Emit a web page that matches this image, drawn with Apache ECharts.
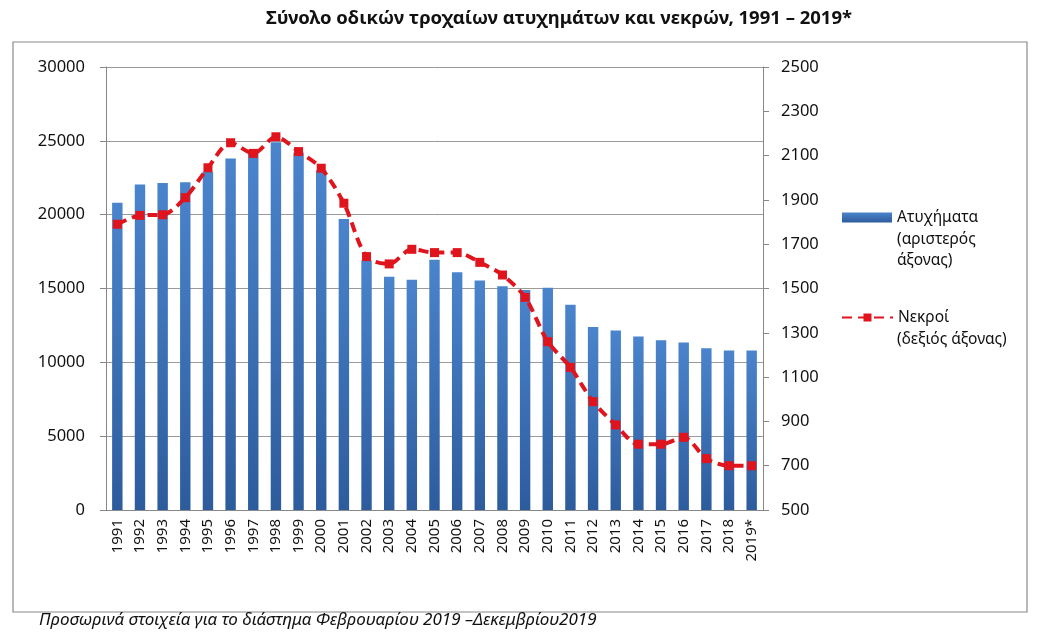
<!DOCTYPE html>
<html>
<head>
<meta charset="utf-8">
<script src="https://cdn.jsdelivr.net/npm/echarts@6/dist/echarts.min.js"></script>
<style>
  html, body { margin: 0; padding: 0; background: #fff; }
  #main { width: 1047px; height: 641px; }
</style>
</head>
<body>
<div id="main"></div>
<script>
// έτη (άξονας x)
const years = ['1991','1992','1993','1994','1995','1996','1997','1998','1999','2000',
  '2001','2002','2003','2004','2005','2006','2007','2008','2009','2010',
  '2011','2012','2013','2014','2015','2016','2017','2018','2019*'];
// ατυχήματα - αριστερός άξονας
const accidents = [20800, 22050, 22150, 22200, 22900, 23800, 24150, 24900, 24200, 23000,
  19700, 16900, 15800, 15600, 16950, 16100, 15550, 15150, 14900, 15050,
  13900, 12400, 12150, 11750, 11500, 11350, 10950, 10800, 10800];
// νεκροί - δεξιός άξονας
const deaths = [1790, 1830, 1833, 1910, 2045, 2158, 2110, 2185, 2118, 2043,
  1885, 1644, 1611, 1677, 1662, 1662, 1618, 1561, 1460, 1260,
  1144, 989, 884, 797, 797, 828, 732, 700, 700];

const accName = 'Ατυχήματα';
const deathName = 'Νεκροί';

const font = 'Noto Sans';
const chart = echarts.init(document.getElementById('main'));

const option = {
  animation: false,
  textStyle: { fontFamily: font },
  title: {
    text: 'Σύνολο οδικών τροχαίων ατυχημάτων και νεκρών, 1991 – 2019*',
    left: 554, top: 4, textAlign: 'center',
    textStyle: { fontSize: 18.5, fontWeight: 'bold', color: '#111', fontFamily: font }
  },
  graphic: [
    { type: 'rect', shape: { x: 13, y: 42, width: 1014, height: 570 },
      style: { fill: 'none', stroke: '#8a8a8a', lineWidth: 1.2 } },
    { type: 'text', x: 39, y: 612,
      style: { text: 'Προσωρινά στοιχεία για το διάστημα Φεβρουαρίου 2019 –Δεκεμβρίου2019',
        font: 'italic 17px "' + font + '"', fill: '#111' } },
    // υπόλοιπες γραμμές του υπομνήματος
    { type: 'text', x: 897, y: 229,
      style: { text: '(αριστερός\nάξονας)', font: '15.5px "' + font + '"',
        lineHeight: 21, fill: '#111', verticalAlign: 'top' } },
    { type: 'text', x: 897, y: 329,
      style: { text: '(δεξιός άξονας)', font: '15.5px "' + font + '"',
        lineHeight: 21, fill: '#111', verticalAlign: 'top' } }
  ],
  legend: [
    {
      data: [{ name: accName, icon: 'rect' }],
      left: 842, top: 207, padding: 0, itemWidth: 50, itemHeight: 10,
      textStyle: { fontSize: 15.5, lineHeight: 21, color: '#111' }
    },
    {
      data: [{ name: deathName }],
      left: 841, top: 307, padding: 0, itemWidth: 51, itemHeight: 10,
      textStyle: { fontSize: 15.5, lineHeight: 21, color: '#111' }
    }
  ],
  grid: { left: 106, right: 284, top: 67, bottom: 131 },
  xAxis: {
    type: 'category', data: years,
    axisLine: { lineStyle: { color: '#888' } },
    axisTick: { length: 6, lineStyle: { color: '#888' } },
    axisLabel: { rotate: 90, fontSize: 15, color: '#111', margin: 9 }
  },
  yAxis: [
    {
      type: 'value', min: 0, max: 30000, interval: 5000, position: 'left',
      axisLine: { show: true, lineStyle: { color: '#888' } },
      axisTick: { show: true, length: 6, lineStyle: { color: '#888' } },
      axisLabel: { fontSize: 16.5, color: '#111', margin: 21, formatter: v => String(v) },
      splitLine: { lineStyle: { color: '#9a9a9a', width: 1 } }
    },
    {
      type: 'value', min: 500, max: 2500, interval: 200, position: 'right',
      axisLine: { show: true, lineStyle: { color: '#888' } },
      axisTick: { show: true, length: 6, lineStyle: { color: '#888' } },
      axisLabel: { fontSize: 16.5, color: '#111', margin: 18, formatter: v => String(v) },
      splitLine: { show: false }
    }
  ],
  series: [
    {
      name: accName, type: 'bar', data: accidents,
      yAxisIndex: 0, barWidth: '46%',
      itemStyle: {
        color: new echarts.graphic.LinearGradient(0, 0, 0, 1, [
          { offset: 0, color: '#4a84cc' },
          { offset: 1, color: '#2d5c9d' }
        ])
      }
    },
    {
      name: deathName, type: 'line', data: deaths,
      yAxisIndex: 1, smooth: 0.3,
      symbol: 'rect', symbolSize: 9,
      lineStyle: { color: '#e0141c', width: 4, type: [10, 6] },
      itemStyle: { color: '#e0141c' }
    }
  ]
};

chart.setOption(option);
</script>
</body>
</html>
